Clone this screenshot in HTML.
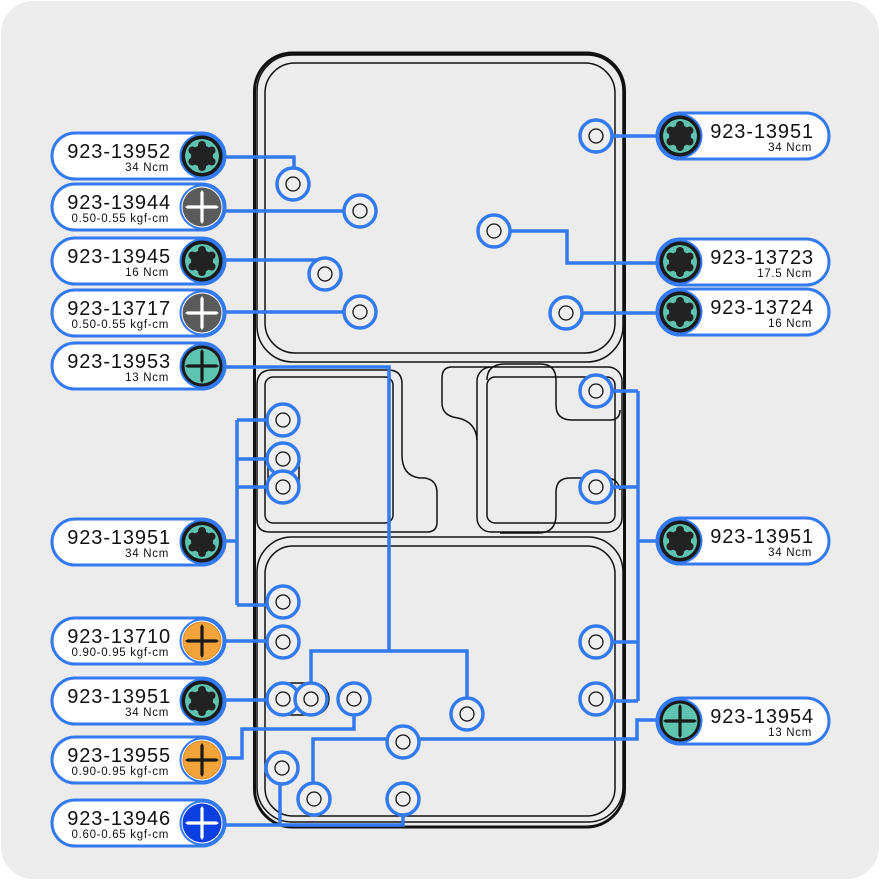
<!DOCTYPE html>
<html><head><meta charset="utf-8"><style>
html,body{margin:0;padding:0;background:#fff;}
svg{display:block;}
.t{font-family:"Liberation Sans",sans-serif;fill:#111;}
.ti{font-size:20px;letter-spacing:0.9px;}
.su{font-size:11.5px;letter-spacing:0.7px;}
</style></head><body>
<svg width="880" height="880" viewBox="0 0 880 880" xmlns="http://www.w3.org/2000/svg">
<defs>
 <g id="torx">
  <circle r="22.5" fill="#337af0"/>
  <circle r="20.5" fill="#1a1a1a"/>
  <circle r="17" fill="#5ec4b0"/>
  <g fill="#222">
   <circle r="11"/>
   <circle cx="0" cy="-11" r="4"/><circle cx="0" cy="11" r="4"/>
   <circle cx="9.53" cy="-5.5" r="4"/><circle cx="9.53" cy="5.5" r="4"/>
   <circle cx="-9.53" cy="-5.5" r="4"/><circle cx="-9.53" cy="5.5" r="4"/>
  </g>
  <g fill="#5ec4b0">
   <circle cx="14.2" cy="0" r="3.3"/><circle cx="-14.2" cy="0" r="3.3"/>
   <circle cx="7.1" cy="12.3" r="3.3"/><circle cx="-7.1" cy="12.3" r="3.3"/>
   <circle cx="7.1" cy="-12.3" r="3.3"/><circle cx="-7.1" cy="-12.3" r="3.3"/>
  </g>
  <circle r="18.7" fill="none" stroke="#1a1a1a" stroke-width="3.4"/>
 </g>
 <g id="cross">
  <polygon points="-17,0 -14.5,-1.6 14.5,-1.6 17,0 14.5,1.6 -14.5,1.6"/>
  <polygon points="0,-17 -1.6,-14.5 -1.6,14.5 0,17 1.6,14.5 1.6,-14.5"/>
 </g>
 <g id="pgray">
  <circle r="22.5" fill="#337af0"/><circle r="20.5" fill="#fff"/><circle r="19.5" fill="#5b5b5b"/>
  <use href="#cross" fill="#fff"/>
 </g>
 <g id="pteal">
  <circle r="22.5" fill="#337af0"/><circle r="20.5" fill="#1a1a1a"/><circle r="17.5" fill="#5ec4b0"/>
  <use href="#cross" fill="#1a1a1a"/>
 </g>
 <g id="porange">
  <circle r="22.5" fill="#337af0"/><circle r="20.5" fill="#fff"/><circle r="19.5" fill="#d98a28"/><circle r="18.5" fill="#f2a33a"/>
  <use href="#cross" fill="#1a1a1a"/>
 </g>
 <g id="pblue">
  <circle r="22.5" fill="#337af0"/><circle r="20.5" fill="#fff"/><circle r="19.5" fill="#0b3fe2"/>
  <use href="#cross" fill="#fff"/>
 </g>
 <g id="ring">
  <circle r="16" fill="#efefef" stroke="#337af0" stroke-width="3.5"/>
  <circle r="7" fill="none" stroke="#111" stroke-width="1.3"/>
 </g>
</defs>

<rect x="1" y="1" width="878" height="878" rx="32" fill="#ececec"/>

<!-- device structure -->
<g fill="none" stroke="#111">
 <rect x="254.5" y="53" width="370" height="774" rx="38" stroke-width="3"/>
 <rect x="257" y="55" width="366" height="307" rx="36" stroke-width="1.5"/>
 <rect x="265" y="63" width="350" height="290" rx="30" stroke-width="1.5"/>
 <!-- middle left -->
 <path d="M257 385 Q257 370 272 370 L388 370 Q402 370 402 384 L402 455 Q402 476 420 478 L425 478 Q437 480 437 493 L437 522 Q437 532 427 532 L270 532 Q257 532 257 520 Z" stroke-width="1.5"/>
 <rect x="265" y="377" width="128" height="146" rx="8" stroke-width="1.5"/>
 <rect x="268" y="443" width="31" height="60" rx="15" stroke-width="1.5"/>
 <!-- middle right -->
 <rect x="477" y="367" width="145" height="165" rx="14" stroke-width="1.5"/>
 <rect x="487" y="377" width="128" height="146" rx="8" stroke-width="1.5"/>
 <path d="M487 380 Q487 364 505 364 L540 364 Q556 364 556 380 L556 405 Q556 420 572 420 L610 420 Q620 420 620 410" stroke-width="1.5"/>
 <path d="M620 490 Q618 478 606 478 L570 478 Q556 478 556 492 L556 515 Q556 533 538 533 L500 533" stroke-width="1.5"/>
 <path d="M490 367 L452 367 Q442 367 442 378 L442 403 Q442 416 458 418 Q476 422 477 440" stroke-width="1.5"/>
 <!-- bottom panel -->
 <rect x="257" y="537" width="366" height="285" rx="35" stroke-width="1.5"/>
 <rect x="265" y="546" width="350" height="270" rx="28" stroke-width="1.5"/>
 <rect x="267" y="683" width="62" height="32" rx="16" stroke-width="1.5"/>
</g>

<!-- connectors -->
<g fill="none" stroke="#337af0" stroke-width="3.5" stroke-linejoin="miter">
 <path d="M224 157 H294 V184"/>
 <path d="M224 211 H360"/>
 <path d="M224 260 H325 V274"/>
 <path d="M224 312 H360"/>
 <path d="M224 367 H389 V651"/>
 <path d="M311 699 V651 H467 V714"/>
 <path d="M237 420 V605"/>
 <path d="M237 420 H283 M237 459 H283 M237 487 H283 M237 605 H283 M224 541 H237"/>
 <path d="M224 641 H283"/>
 <path d="M224 700 H283"/>
 <path d="M224 758 H242 V729 H354 V699"/>
 <path d="M224 825 H403 V799 M280 825 V768"/>
 <path d="M680 720 H637 V739 H313 V799"/>
 <path d="M638 391 V701 M596 391 H638 M596 487 H638 M596 642 H638 M596 701 H638 M638 541 H680"/>
 <path d="M596 136 H680"/>
 <path d="M494 231 H567 V263 H680"/>
 <path d="M566 313 H680"/>
</g>

<!-- rings -->
<g>
 <use href="#ring" x="293" y="184"/><use href="#ring" x="360" y="211"/><use href="#ring" x="325" y="274"/><use href="#ring" x="360" y="312"/>
 <use href="#ring" x="596" y="136"/><use href="#ring" x="494" y="231"/><use href="#ring" x="566" y="313"/>
 <use href="#ring" x="283" y="420"/><use href="#ring" x="283" y="459"/><use href="#ring" x="283" y="487"/>
 <use href="#ring" x="596" y="391"/><use href="#ring" x="596" y="487"/>
 <use href="#ring" x="283" y="602"/><use href="#ring" x="283" y="642"/><use href="#ring" x="283" y="699"/><use href="#ring" x="311" y="699"/>
 <use href="#ring" x="354" y="699"/><use href="#ring" x="467" y="714"/><use href="#ring" x="403" y="742"/><use href="#ring" x="282" y="768"/>
 <use href="#ring" x="314" y="799"/><use href="#ring" x="403" y="799"/><use href="#ring" x="596" y="642"/><use href="#ring" x="596" y="699"/>
</g>

<!-- pills -->
<g fill="#fff" stroke="#337af0" stroke-width="3">
 <rect x="52" y="133" width="173" height="46" rx="23"/>
 <rect x="52" y="184" width="173" height="46" rx="23"/>
 <rect x="52" y="238" width="173" height="46" rx="23"/>
 <rect x="52" y="290" width="173" height="46" rx="23"/>
 <rect x="52" y="343" width="173" height="46" rx="23"/>
 <rect x="52" y="519" width="173" height="46" rx="23"/>
 <rect x="52" y="618" width="173" height="46" rx="23"/>
 <rect x="52" y="678" width="173" height="46" rx="23"/>
 <rect x="52" y="737" width="173" height="46" rx="23"/>
 <rect x="52" y="800" width="173" height="46" rx="23"/>
 <rect x="657" y="113" width="172" height="46" rx="23"/>
 <rect x="657" y="239" width="172" height="46" rx="23"/>
 <rect x="657" y="289" width="172" height="46" rx="23"/>
 <rect x="657" y="518" width="172" height="46" rx="23"/>
 <rect x="657" y="698" width="172" height="46" rx="23"/>
</g>

<use href="#torx" x="202" y="156"/>
<use href="#pgray" x="202" y="207"/>
<use href="#torx" x="202" y="261"/>
<use href="#pgray" x="202" y="313"/>
<use href="#pteal" x="202" y="366"/>
<use href="#torx" x="202" y="542"/>
<use href="#porange" x="202" y="641"/>
<use href="#torx" x="202" y="701"/>
<use href="#porange" x="202" y="760"/>
<use href="#pblue" x="202" y="823"/>
<use href="#torx" x="680" y="136"/>
<use href="#torx" x="680" y="262"/>
<use href="#torx" x="680" y="312"/>
<use href="#torx" x="680" y="541"/>
<use href="#pteal" x="680" y="721"/>

<g class="t" text-anchor="end">
 <text class="ti" x="171" y="158">923-13952</text><text class="su" x="169" y="171">34 Ncm</text>
 <text class="ti" x="171" y="209">923-13944</text><text class="su" x="169" y="222">0.50-0.55 kgf-cm</text>
 <text class="ti" x="171" y="263">923-13945</text><text class="su" x="169" y="276">16 Ncm</text>
 <text class="ti" x="171" y="315">923-13717</text><text class="su" x="169" y="328">0.50-0.55 kgf-cm</text>
 <text class="ti" x="171" y="368">923-13953</text><text class="su" x="169" y="381">13 Ncm</text>
 <text class="ti" x="171" y="544">923-13951</text><text class="su" x="169" y="557">34 Ncm</text>
 <text class="ti" x="171" y="643">923-13710</text><text class="su" x="169" y="656">0.90-0.95 kgf-cm</text>
 <text class="ti" x="171" y="703">923-13951</text><text class="su" x="169" y="716">34 Ncm</text>
 <text class="ti" x="171" y="762">923-13955</text><text class="su" x="169" y="775">0.90-0.95 kgf-cm</text>
 <text class="ti" x="171" y="825">923-13946</text><text class="su" x="169" y="838">0.60-0.65 kgf-cm</text>
 <text class="ti" x="814" y="138">923-13951</text><text class="su" x="812" y="151">34 Ncm</text>
 <text class="ti" x="814" y="264">923-13723</text><text class="su" x="812" y="277">17.5 Ncm</text>
 <text class="ti" x="814" y="314">923-13724</text><text class="su" x="812" y="327">16 Ncm</text>
 <text class="ti" x="814" y="543">923-13951</text><text class="su" x="812" y="556">34 Ncm</text>
 <text class="ti" x="814" y="723">923-13954</text><text class="su" x="812" y="736">13 Ncm</text>
</g>
</svg>
</body></html>
